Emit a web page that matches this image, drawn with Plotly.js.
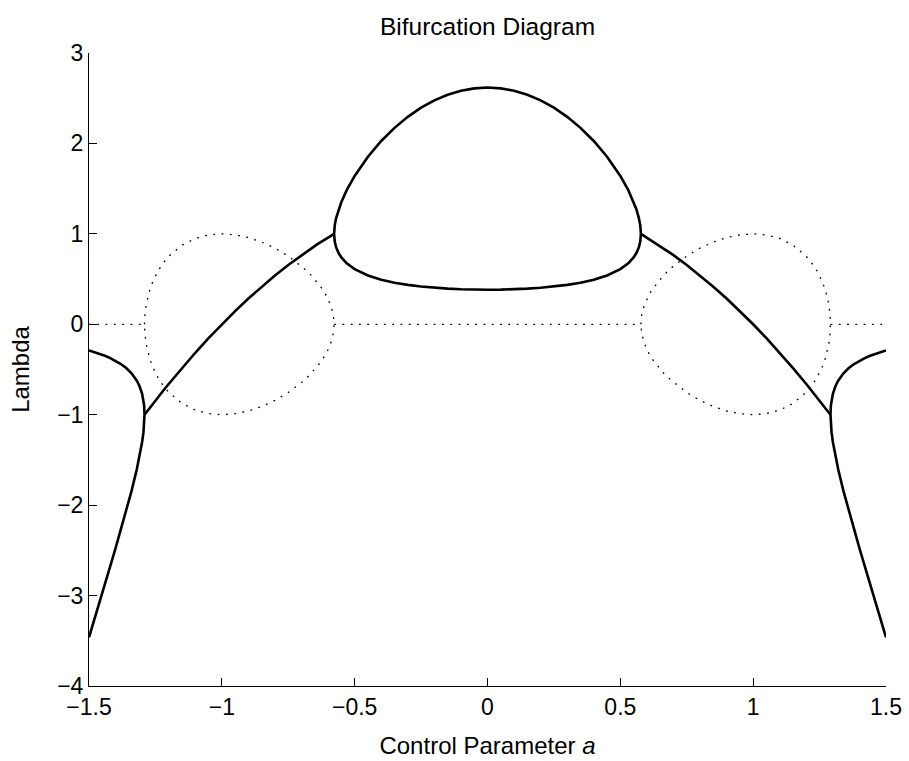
<!DOCTYPE html>
<html>
<head>
<meta charset="utf-8">
<script src="https://cdn.plot.ly/plotly-3.0.1.min.js"></script>
<style>
  html, body { margin: 0; padding: 0; background: #fff; }
  #chart { width: 909px; height: 761px; }
</style>
</head>
<body>
<div id="chart"></div>
<script>
// Eigenvalue branches of the system versus the control parameter a.

// Outer left region: two real eigenvalues meeting at lambda = -1
const aOuterLeft = [-1.5, -1.48, -1.46, -1.44, -1.42, -1.40, -1.38, -1.36, -1.34, -1.32, -1.31, -1.30, -1.295, -1.2925, -1.291];
const lamOuterLeftUpper = [-0.289, -0.306, -0.326, -0.348, -0.374, -0.404, -0.440, -0.484, -0.542, -0.624, -0.682, -0.768, -0.839, -0.898, -1.0];
const lamOuterLeftLower = [-3.461, -3.265, -3.069, -2.873, -2.675, -2.476, -2.273, -2.064, -1.845, -1.604, -1.466, -1.302, -1.193, -1.114, -1.0];

// Left complex region: real part (solid) and imaginary part (dotted)
const aComplexLeft = [-1.291, -1.29, -1.285, -1.28, -1.27, -1.26, -1.24, -1.22, -1.20, -1.15, -1.10, -1.05, -1.00, -0.95, -0.90, -0.85, -0.80, -0.75, -0.70, -0.68, -0.66, -0.64, -0.62, -0.61, -0.60, -0.59, -0.58, -0.5774];
const reComplexLeft = [-1.0, -0.996, -0.977, -0.958, -0.919, -0.881, -0.806, -0.733, -0.660, -0.484, -0.315, -0.154, 0.0, 0.146, 0.285, 0.416, 0.540, 0.656, 0.765, 0.806, 0.847, 0.886, 0.923, 0.942, 0.960, 0.978, 0.995, 1.0];
const imComplexLeft = [0.0, 0.088, 0.214, 0.288, 0.393, 0.472, 0.591, 0.681, 0.751, 0.875, 0.949, 0.988, 1.0, 0.989, 0.959, 0.909, 0.842, 0.755, 0.644, 0.591, 0.532, 0.464, 0.384, 0.336, 0.280, 0.209, 0.096, 0.0];

// Central region: two real eigenvalues forming the closed loop
const aLoop = [-0.5774, -0.575, -0.57, -0.56, -0.55, -0.53, -0.50, -0.45, -0.40, -0.35, -0.30, -0.25, -0.20, -0.15, -0.10, -0.05, 0, 0.05, 0.10, 0.15, 0.20, 0.25, 0.30, 0.35, 0.40, 0.45, 0.50, 0.53, 0.55, 0.56, 0.57, 0.575, 0.5774];
const lamLoopUpper = [1.0, 1.094, 1.172, 1.275, 1.354, 1.483, 1.640, 1.853, 2.027, 2.172, 2.294, 2.395, 2.476, 2.539, 2.583, 2.609, 2.618, 2.609, 2.583, 2.539, 2.476, 2.395, 2.294, 2.172, 2.027, 1.853, 1.640, 1.483, 1.354, 1.275, 1.172, 1.094, 1.0];
const lamLoopLower = [1.0, 0.914, 0.853, 0.785, 0.739, 0.674, 0.610, 0.540, 0.493, 0.460, 0.436, 0.418, 0.404, 0.394, 0.387, 0.383, 0.382, 0.383, 0.387, 0.394, 0.404, 0.418, 0.436, 0.460, 0.493, 0.540, 0.610, 0.674, 0.739, 0.785, 0.853, 0.914, 1.0];

// Right complex region
const aComplexRight = [0.5774, 0.58, 0.59, 0.60, 0.61, 0.62, 0.64, 0.66, 0.68, 0.70, 0.75, 0.80, 0.85, 0.90, 0.95, 1.00, 1.05, 1.10, 1.15, 1.20, 1.22, 1.24, 1.26, 1.27, 1.28, 1.285, 1.29, 1.291];
const reComplexRight = [1.0, 0.995, 0.978, 0.960, 0.942, 0.923, 0.886, 0.847, 0.806, 0.765, 0.656, 0.540, 0.416, 0.285, 0.146, 0.0, -0.154, -0.315, -0.484, -0.660, -0.733, -0.806, -0.881, -0.919, -0.958, -0.977, -0.996, -1.0];
const imComplexRight = [0.0, 0.096, 0.209, 0.280, 0.336, 0.384, 0.464, 0.532, 0.591, 0.644, 0.755, 0.842, 0.909, 0.959, 0.989, 1.0, 0.988, 0.949, 0.875, 0.751, 0.681, 0.591, 0.472, 0.393, 0.288, 0.214, 0.088, 0.0];

// Outer right region
const aOuterRight = [1.291, 1.2925, 1.295, 1.30, 1.31, 1.32, 1.34, 1.36, 1.38, 1.40, 1.42, 1.44, 1.46, 1.48, 1.5];
const lamOuterRightUpper = [-1.0, -0.898, -0.839, -0.768, -0.682, -0.624, -0.542, -0.484, -0.440, -0.404, -0.374, -0.348, -0.326, -0.306, -0.289];
const lamOuterRightLower = [-1.0, -1.114, -1.193, -1.302, -1.466, -1.604, -1.845, -2.064, -2.273, -2.476, -2.675, -2.873, -3.069, -3.265, -3.461];

// Zero imaginary part where both eigenvalues are real
const aZeroLeft = [-1.5, -1.291];
const aZeroMid = [-0.5774, 0.5774];
const aZeroRight = [1.291, 1.5];
const imZero = [0, 0];

// Axis ticks
const xTickVals = [-1.5, -1, -0.5, 0, 0.5, 1, 1.5];
const yTickVals = [-4, -3, -2, -1, 0, 1, 2, 3];

const FONT = '"Liberation Sans", Arial, Helvetica, sans-serif';
const solid = { color: '#000', width: 2.6 };
const dotted = { color: '#000', width: 1.3, dash: '1.8px,6.5px' };

function rev(arr) { return arr.slice().reverse(); }
function neg(arr) { return arr.map(v => -v); }

const traces = [
  // real parts (solid): outer branches run from the edge to the branch point and back
  { x: aOuterLeft.concat(rev(aOuterLeft)), y: lamOuterLeftUpper.concat(rev(lamOuterLeftLower)), line: solid },
  { x: aComplexLeft, y: reComplexLeft, line: solid },
  { x: aLoop.concat(rev(aLoop)), y: lamLoopUpper.concat(rev(lamLoopLower)), line: solid },
  { x: aComplexRight, y: reComplexRight, line: solid },
  { x: rev(aOuterRight).concat(aOuterRight), y: rev(lamOuterRightUpper).concat(lamOuterRightLower), line: solid },
  // imaginary parts (dotted)
  { x: aZeroLeft, y: imZero, line: dotted },
  { x: aComplexLeft.concat(rev(aComplexLeft)), y: imComplexLeft.concat(neg(rev(imComplexLeft))), line: dotted },
  { x: aZeroMid, y: imZero, line: dotted },
  { x: aComplexRight.concat(rev(aComplexRight)), y: imComplexRight.concat(neg(rev(imComplexRight))), line: dotted },
  { x: aZeroRight, y: imZero, line: dotted }
].map(t => Object.assign({ type: 'scatter', mode: 'lines', showlegend: false, hoverinfo: 'skip' }, t));

const axisCommon = {
  showline: true, linecolor: '#000', linewidth: 1,
  ticks: 'inside', ticklen: 8, tickwidth: 1, tickcolor: '#000',
  showgrid: false, zeroline: false, mirror: false, automargin: false,
  tickfont: { family: FONT, size: 23, color: '#000' },
  tickmode: 'array'
};

const layout = {
  width: 909, height: 761,
  margin: { l: 89, r: 23, t: 53, b: 75, pad: 0 },
  paper_bgcolor: '#fff', plot_bgcolor: '#fff',
  font: { family: FONT, color: '#000' },
  title: {
    text: 'Bifurcation Diagram',
    font: { family: FONT, size: 24.5, color: '#000' },
    x: 0.5, xref: 'paper', xanchor: 'center',
    y: 1 - 26 / 761, yref: 'container', yanchor: 'middle'
  },
  xaxis: Object.assign({}, axisCommon, {
    range: [-1.5, 1.5], tickvals: xTickVals,
    title: { text: 'Control Parameter <i>a</i>', font: { family: FONT, size: 24, color: '#000' }, standoff: 18 }
  }),
  yaxis: Object.assign({}, axisCommon, {
    range: [-4, 3], tickvals: yTickVals,
    title: { text: 'Lambda', font: { family: FONT, size: 24, color: '#000' }, standoff: 20 }
  })
};

Plotly.newPlot('chart', traces, layout, { displayModeBar: false, staticPlot: true });
</script>
</body>
</html>
